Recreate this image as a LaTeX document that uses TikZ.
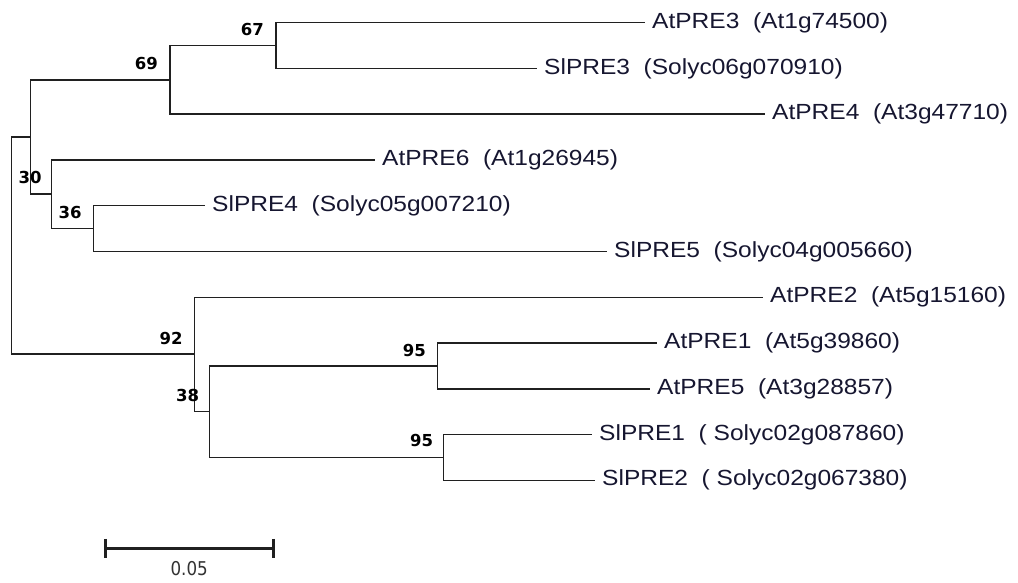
\documentclass[tikz,border=0pt]{standalone}
\usepackage{fontspec}
\newfontfamily\leaffont[FakeStretch=1.12]{Liberation Sans}
\newfontfamily\bootfont{DejaVu Sans}
\newfontfamily\barfont[FakeStretch=0.88]{DejaVu Sans}
\definecolor{treeline}{HTML}{202020}
\definecolor{leaftext}{HTML}{161630}
\begin{document}
\begin{tikzpicture}[x=1pt,y=-1pt,
  branch/.style={draw=treeline, line width=1.4pt},
  leaf/.style={anchor=west, inner xsep=7pt, inner ysep=0pt, text=leaftext,
    font=\leaffont\fontsize{21.9}{24}\selectfont},
  boot/.style={anchor=base east, inner sep=0pt, text=black,
    font=\bootfont\bfseries\fontsize{16.5}{18}\selectfont},
  barlabel/.style={anchor=base, inner sep=0pt, text=black!80,
    font=\barfont\fontsize{19}{21}\selectfont}]
\useasboundingbox (0,0) rectangle (1018,583);

% internal nodes of the tree
\coordinate (root) at (11.7,245.4);
\coordinate (nA)   at (30.7,137);
\coordinate (n69)  at (170,80);
\coordinate (n67)  at (276,45.6);
\coordinate (n30)  at (51.7,194);
\coordinate (n36)  at (93.3,228.6);
\coordinate (n92)  at (194.3,354);
\coordinate (n38)  at (209.3,411.4);
\coordinate (n95a) at (437.3,365.9);
\coordinate (n95b) at (443.3,457.4);

% leaves
\node[leaf] (atpre3) at (645,22.7)  {AtPRE3\ \ (At1g74500)};
\node[leaf] (slpre3) at (537,68.5)  {SlPRE3\ \ (Solyc06g070910)};
\node[leaf] (atpre4) at (765,114.2) {AtPRE4\ \ (At3g47710)};
\node[leaf] (atpre6) at (375,160)   {AtPRE6\ \ (At1g26945)};
\node[leaf] (slpre4) at (205,205.7) {SlPRE4\ \ (Solyc05g007210)};
\node[leaf] (slpre5) at (607,251.5) {SlPRE5\ \ (Solyc04g005660)};
\node[leaf] (atpre2) at (763,297.3) {AtPRE2\ \ (At5g15160)};
\node[leaf] (atpre1) at (657,343)   {AtPRE1\ \ (At5g39860)};
\node[leaf] (atpre5) at (650,388.8) {AtPRE5\ \ (At3g28857)};
\node[leaf] (slpre1) at (592,434.6) {SlPRE1\ \ ( Solyc02g087860)};
\node[leaf] (slpre2) at (595,480.3) {SlPRE2\ \ ( Solyc02g067380)};

% branches
\draw[branch] (root) |- (nA);
\draw[branch] (root) |- (n92);
\draw[branch] (nA) |- (n69);
\draw[branch] (nA) |- (n30);
\draw[branch] (n69) |- (n67);
\draw[branch] (n69) |- (atpre4.west);
\draw[branch] (n67) |- (atpre3.west);
\draw[branch] (n67) |- (slpre3.west);
\draw[branch] (n30) |- (atpre6.west);
\draw[branch] (n30) |- (n36);
\draw[branch] (n36) |- (slpre4.west);
\draw[branch] (n36) |- (slpre5.west);
\draw[branch] (n92) |- (atpre2.west);
\draw[branch] (n92) |- (n38);
\draw[branch] (n38) |- (n95a);
\draw[branch] (n38) |- (n95b);
\draw[branch] (n95a) |- (atpre1.west);
\draw[branch] (n95a) |- (atpre5.west);
\draw[branch] (n95b) |- (slpre1.west);
\draw[branch] (n95b) |- (slpre2.west);

% bootstrap values
\node[boot] (b67) at ([xshift=-12pt,yshift=10.5pt]n67) {67};
\node[boot] (b69) at ([xshift=-12pt,yshift=10.5pt]n69) {69};
\node[boot] (b30) at ([xshift=-10pt,yshift=10pt]n30) {30};
\node[boot] (b36) at ([xshift=-11.5pt,yshift=10.5pt]n36) {36};
\node[boot] (b92) at ([xshift=-11.5pt,yshift=9.8pt]n92) {92};
\node[boot] (b38) at ([xshift=-10pt,yshift=10pt]n38) {38};
\node[boot] (b95a) at ([xshift=-11.3pt,yshift=9.8pt]n95a) {95};
\node[boot] (b95b) at ([xshift=-10pt,yshift=10.5pt]n95b) {95};

% scale bar
\coordinate (s0) at (105,548.3);
\coordinate (s1) at (273.3,548.3);
\draw[draw=treeline, line width=3pt] (s0) -- (s1);
\draw[draw=treeline, line width=3pt] ([yshift=9.5pt]s0) -- ([yshift=-9.5pt]s0);
\draw[draw=treeline, line width=3pt] ([yshift=9.5pt]s1) -- ([yshift=-9.5pt]s1);
\node[barlabel] (sbar) at (189.2,575) {0.05};
\end{tikzpicture}
\end{document}
